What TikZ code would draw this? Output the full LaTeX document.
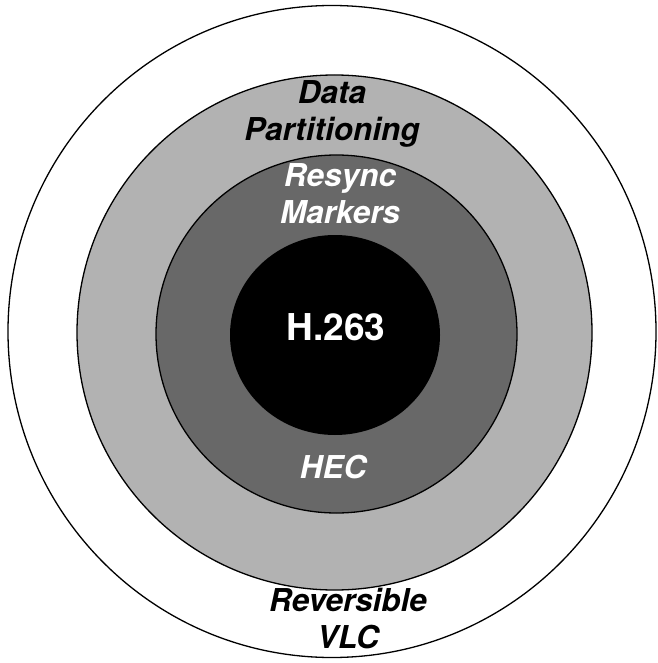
\documentclass[tikz,border=0pt]{standalone}
\usepackage{fontspec}
\setmainfont{TeX Gyre Heros}
\definecolor{lightring}{RGB}{178,178,178}
\definecolor{darkring}{RGB}{104,104,104}
\begin{document}
\begin{tikzpicture}[x=1pt,y=-1pt,
  ring/.style={draw=black,line width=1.3pt},
  lbl/.style={font=\fontsize{31.5}{37}\selectfont\bfseries\itshape,align=center,inner sep=0pt}]
\useasboundingbox (0,0) rectangle (657,663);
\draw[ring,fill=white] (332,331.5) ellipse [x radius=324, y radius=326];
\draw[ring,fill=lightring] (334.5,332.5) circle [radius=257.5];
\draw[ring,fill=darkring] (336.5,334) ellipse [x radius=180.5, y radius=179];
\fill[black] (335,335) ellipse [x radius=105, y radius=100];
\node[lbl,text=black] (dp) at (332,114) {Data\\Partitioning};
\node[lbl,text=white] (rm) at (340,194) {Resync\\Markers};
\node[font=\fontsize{37}{40}\selectfont\bfseries,text=white,inner sep=0pt] (h) at (336,327) {H.263};
\node[lbl,text=white] (hec) at (333,467) {HEC};
\node[lbl,text=black] (rv) at (348,619) {Reversible\\VLC};
\end{tikzpicture}
\end{document}
